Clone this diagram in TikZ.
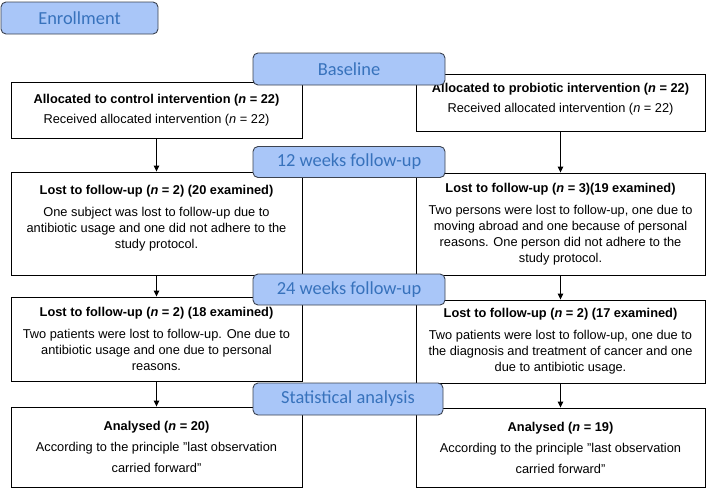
\documentclass[tikz,border=0pt]{standalone}
\usepackage{fontspec}
\setmainfont{Liberation Sans}
\newfontfamily\calfont{Carlito}
\usetikzlibrary{arrows.meta}
\definecolor{phasefill}{HTML}{A9C6F8}
\definecolor{phasetext}{HTML}{3772BC}
\definecolor{phaseline}{HTML}{3C4350}

\tikzset{stagebox/.style = {shape = rectangle,
                            draw = black,
                            fill = white,
                            line width = 0.9pt,
                            inner sep = 0pt,
                            align = center,
                            font = \fontsize{12.8}{16}\selectfont},
         phasebox/.style = {shape = rectangle,
                            rounded corners = 5pt,
                            draw = phaseline,
                            fill = phasefill,
                            line width = 0.9pt,
                            inner sep = 0pt,
                            minimum width = 192pt,
                            minimum height = 31pt,
                            text = phasetext,
                            font = \calfont\fontsize{18.4}{20}\selectfont},
         flow/.style = {draw, line width = 0.9pt,
                        -{Triangle[length=6pt,width=5.5pt]}}}

\begin{document}
\begin{tikzpicture}[x=1pt, y=-1pt]
		\useasboundingbox (0,0) rectangle (709,488);
		\node[stagebox, minimum width = 291pt, minimum height = 56pt] (l1) at (156.5,110)
			{\textbf{Allocated to control intervention (\textit{n} = 22)}\\[4pt]
			 Received allocated intervention (\textit{n} = 22)};
		\node[stagebox, minimum width = 289pt, minimum height = 57pt] (r1) at (560.5,102.5)
			{\textbf{Allocated to probiotic intervention (\textit{n} = 22)}\\[4pt]
			 Received allocated intervention (\textit{n} = 22)\\[-6pt]};
		\node[stagebox, minimum width = 291pt, minimum height = 103pt] (l2) at (156.5,223.5)
			{\textbf{Lost to follow-up (\textit{n} = 2) (20 examined)}\\[6pt]
			 One subject was lost to follow-up due to\\
			 antibiotic usage and one did not adhere to the\\
			 study protocol.\\[-2pt]};
		\node[stagebox, minimum width = 289pt, minimum height = 102pt] (r2) at (560.5,224)
			{\textbf{Lost to follow-up (\textit{n} = 3)(19 examined)}\\[6pt]
			 Two persons were lost to follow-up, one due to\\
			 moving abroad and one because of personal\\
			 reasons. One person did not adhere to the\\
			 study protocol.};
		\node[stagebox, minimum width = 291pt, minimum height = 84pt] (l3) at (156.5,339)
			{\textbf{Lost to follow-up (\textit{n} = 2) (18 examined)}\\[6pt]
			 Two patients were lost to follow-up. One due to\\
			 antibiotic usage and one due to personal\\
			 reasons.};
		\node[stagebox, minimum width = 289pt, minimum height = 83pt] (r3) at (560.5,341.5)
			{\textbf{Lost to follow-up (\textit{n} = 2) (17 examined)}\\[6pt]
			 Two patients were lost to follow-up, one due to\\
			 the diagnosis and treatment of cancer and one\\
			 due to antibiotic usage.};
		\node[stagebox, minimum width = 291pt, minimum height = 80pt] (l4) at (156.5,447)
			{\textbf{Analysed (\textit{n} = 20)}\\[5pt]
			 According to the principle "last observation\\[5pt]
			 carried forward"};
		\node[stagebox, minimum width = 289pt, minimum height = 79pt] (r4) at (560.5,447.5)
			{\textbf{Analysed (\textit{n} = 19)}\\[5pt]
			 According to the principle "last observation\\[5pt]
			 carried forward"};
		\path[flow] (l1) edge (l2);
		\path[flow] (l2) edge (l3);
		\path[flow] (l3) edge (l4);
		\path[flow] (r1) edge (r2);
		\path[flow] (r2) edge (r3);
		\path[flow] (r3) edge (r4);
		\node[phasebox, minimum width = 157pt, minimum height = 32pt] (enrol) at (79.5,18) {Enrollment};
		\node[phasebox, minimum height = 32pt] (base) at (349,69) {Baseline};
		\node[phasebox] (wk12) at (349,162) {12 weeks follow-up};
		\node[phasebox] (wk24) at (349,289.5) {24 weeks follow-up};
		\node[phasebox, minimum width = 190pt, minimum height = 32pt] (stat) at (348,399) {Statistical analysis};
	\end{tikzpicture}
\end{document}
